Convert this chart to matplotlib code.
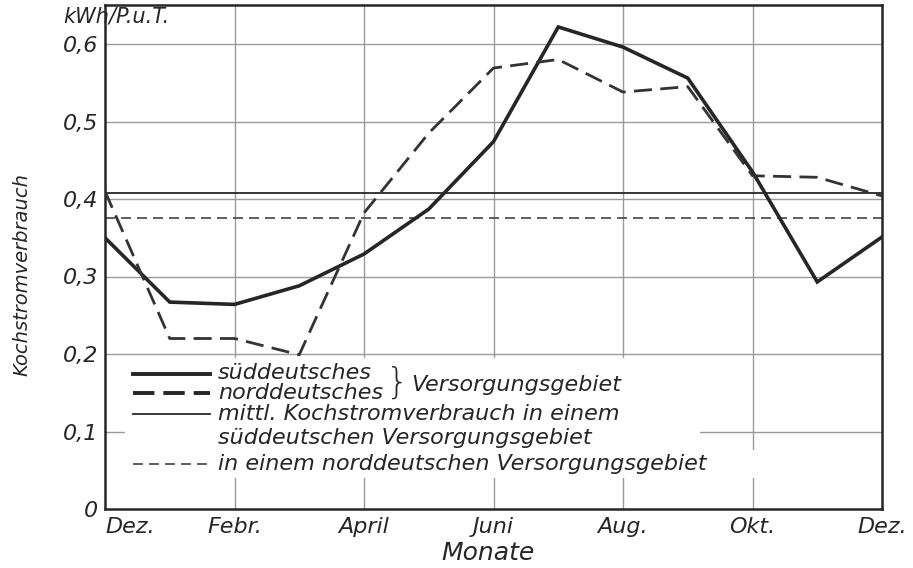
import matplotlib
matplotlib.use('Agg')
import matplotlib.pyplot as plt
from matplotlib.lines import Line2D
from matplotlib.patches import Rectangle

# ---- data ----
months = ['Dez', 'Jan', 'Feb', 'Mär', 'Apr', 'Mai', 'Jun', 'Jul', 'Aug', 'Sep', 'Okt', 'Nov', 'Dez']
sued = [0.350, 0.267, 0.264, 0.288, 0.329, 0.387, 0.474, 0.622, 0.596, 0.556, 0.435, 0.293, 0.351]
nord = [0.410, 0.220, 0.220, 0.199, 0.382, 0.485, 0.569, 0.580, 0.538, 0.545, 0.430, 0.428, 0.404]
mean_sued = 0.408
mean_nord = 0.375
x_tick_pos = [0, 2, 4, 6, 8, 10, 12]
x_tick_labels = ['Dez.', 'Febr.', 'April', 'Juni', 'Aug.', 'Okt.', 'Dez.']
y_ticks = [0, 0.1, 0.2, 0.3, 0.4, 0.5, 0.6]
y_tick_labels = ['0', '0,1', '0,2', '0,3', '0,4', '0,5', '0,6']

plt.rcParams['font.family'] = ['DejaVu Sans']
plt.rcParams['font.style'] = 'italic'

W, H = 913, 568
fig = plt.figure(figsize=(W / 100, H / 100), dpi=100)
fig.patch.set_facecolor('white')

L, R, B, T = 105, 882, 509, 5
ax = fig.add_axes([L / W, 1 - B / H, (R - L) / W, (B - T) / H])

def fx(x):
    return x / W

def fy(y):
    return 1 - y / H

xs = list(range(len(months)))
ink = '#262626'
grid_c = '#9a9a9a'

# grid
ax.set_axisbelow(True)
for yv in y_ticks[1:]:
    ax.axhline(yv, color=grid_c, lw=1.0, zorder=0.5)
for xv in x_tick_pos[1:-1]:
    ax.axvline(xv, color=grid_c, lw=1.0, zorder=0.5)

# legend white background
def white_box(x0, y0, x1, y1):
    ax.add_patch(Rectangle(((x0 - L) / (R - L), (B - y1) / (B - T)),
                           (x1 - x0) / (R - L), (y1 - y0) / (B - T),
                           transform=ax.transAxes, facecolor='white',
                           edgecolor='none', zorder=1))

white_box(125, 358, 700, 452)
white_box(125, 450, 815, 478)

# mean lines
ax.axhline(mean_sued, color=ink, lw=1.3, zorder=2)
ax.axhline(mean_nord, color='#444444', lw=1.2, ls=(0, (6, 3.6)), zorder=2)

# data lines
ax.plot(xs, sued, color=ink, lw=2.6, solid_joinstyle='miter', zorder=3)
ax.plot(xs, nord, color='#333333', lw=2.0, ls=(0, (6.5, 3)), zorder=3)

ax.set_xlim(0, 12)
ax.set_ylim(0, (B - T) / 775.0)

for s in ax.spines.values():
    s.set_color(ink)
    s.set_linewidth(1.8)

ax.set_xticks(x_tick_pos)
ax.set_xticklabels(x_tick_labels, fontsize=16, fontstyle='italic', color=ink)
ax.set_yticks(y_ticks)
ax.set_yticklabels(y_tick_labels, fontsize=16, fontstyle='italic', color=ink)
ax.tick_params(axis='both', length=0)
ax.tick_params(axis='x', pad=6)
ax.tick_params(axis='y', pad=5)
xl = ax.get_xticklabels()
xl[0].set_ha('left')
xl[-1].set_ha('center')

# axis titles
fig.text(fx(488), fy(553), 'Monate', fontsize=18, fontstyle='italic', color=ink,
         ha='center', va='center')
fig.text(fx(22), fy(275), 'Kochstromverbrauch', fontsize=14, fontstyle='italic',
         color=ink, rotation=90, ha='center', va='center')
fig.text(fx(63), fy(17), 'kWh/P.u.T.', fontsize=15, fontstyle='italic', color=ink,
         ha='left', va='center')

# manual legend
def key(y, lw, ls, color=ink):
    fig.add_artist(Line2D([fx(133), fx(210)], [fy(y), fy(y)], transform=fig.transFigure,
                          color=color, lw=lw, ls=ls))

fs = 16
key(374, 2.8, '-')
fig.text(fx(218), fy(373), 'süddeutsches', fontsize=fs, fontstyle='italic', color=ink,
         ha='left', va='center')
key(393, 2.8, (0, (5.5, 2.3)))
fig.text(fx(218), fy(393), 'norddeutsches', fontsize=fs, fontstyle='italic', color=ink,
         ha='left', va='center')
fig.text(fx(386), fy(383), '}', fontsize=26, fontweight='light', fontstyle='normal',
         color=ink, ha='left', va='center')
fig.text(fx(411), fy(385), 'Versorgungsgebiet', fontsize=fs, fontstyle='italic', color=ink,
         ha='left', va='center')
key(414, 1.3, '-')
fig.text(fx(218), fy(414), 'mittl. Kochstromverbrauch in einem', fontsize=fs,
         fontstyle='italic', color=ink, ha='left', va='center')
fig.text(fx(218), fy(438), 'süddeutschen Versorgungsgebiet', fontsize=fs,
         fontstyle='italic', color=ink, ha='left', va='center')
key(464, 1.2, (0, (6, 3.6)), '#444444')
fig.text(fx(218), fy(464), 'in einem norddeutschen Versorgungsgebiet', fontsize=fs,
         fontstyle='italic', color=ink, ha='left', va='center')

fig.savefig('out.png', dpi=100, facecolor='white')
